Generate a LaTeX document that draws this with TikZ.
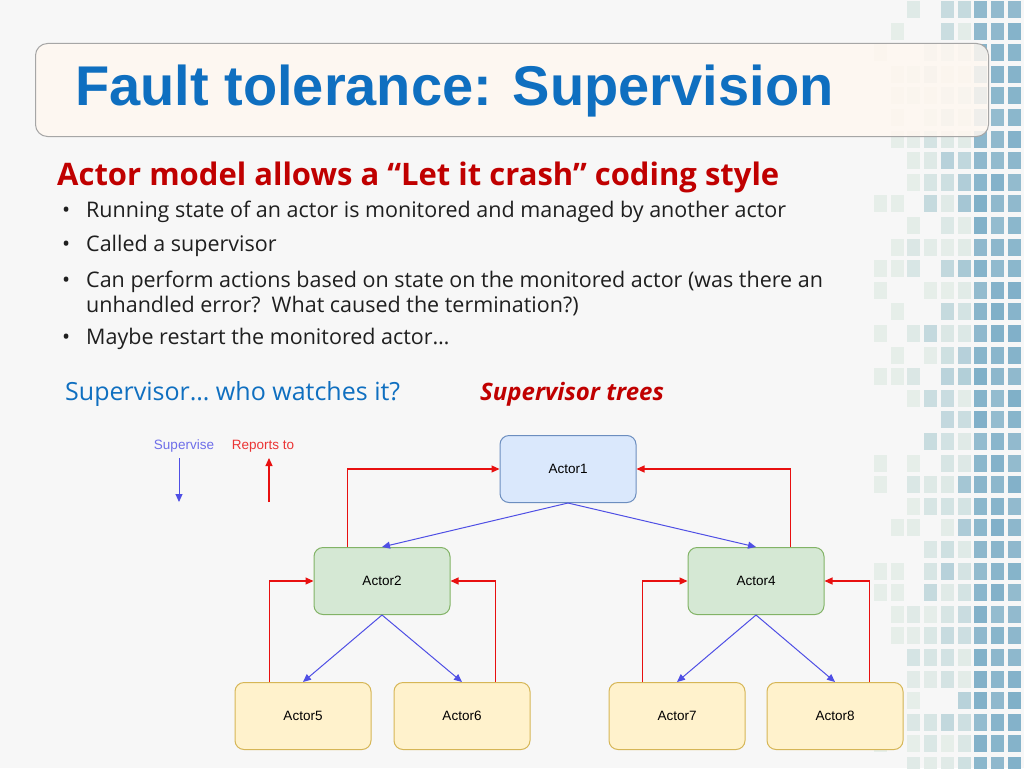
\documentclass[tikz,border=0pt]{standalone}
\usepackage{fontspec}
\setmainfont{Open Sans}
\newfontfamily\arialf{Liberation Sans}
\usetikzlibrary{arrows.meta}
\definecolor{bgc}{HTML}{F7F7F7}
\definecolor{sqblue}{HTML}{7FAFC8}
\definecolor{sqpale}{HTML}{E6EEE9}
\definecolor{titleblue}{HTML}{0F6FC0}
\definecolor{headred}{HTML}{C00000}
\definecolor{supblue}{HTML}{3030E0}
\definecolor{repred}{HTML}{E81010}
\definecolor{f1}{HTML}{DAE8FC}\definecolor{d1}{HTML}{6C8EBF}
\definecolor{f2}{HTML}{D5E8D4}\definecolor{d2}{HTML}{82B366}
\definecolor{f3}{HTML}{FFF2CC}\definecolor{d3}{HTML}{D6B656}
\begin{document}
\begin{tikzpicture}[x=1pt,y=-1pt,
  actor/.style={draw, rounded corners=9pt, minimum width=136pt, minimum height=67pt, inner sep=0pt, font=\arialf\fontsize{13.5}{16}\selectfont, line width=1pt},
  a1/.style={actor, fill=f1, draw=d1},
  a2/.style={actor, fill=f2, draw=d2},
  a3/.style={actor, fill=f3, draw=d3},
  sup/.style={-{Triangle[length=8pt,width=7pt]}, supblue!85, line width=1pt},
  rep/.style={-{Triangle[length=8pt,width=7pt]}, repred, line width=1.1pt},
  bul/.style={anchor=west, inner sep=0pt, font=\fontsize{21.5}{34}\selectfont, text=black!88}
]
\useasboundingbox (0,0) rectangle (1024,768);
\fill[bgc] (0,0) rectangle (1024,768);
% decorative squares
\pgfmathsetseed{11}
\foreach \c in {0,...,8}{
  \foreach \r in {0,...,35}{
    \pgfmathsetmacro\v{rnd}
    \pgfmathtruncatemacro\show{(\v < 0.3+0.14*\c) ? 1 : 0}
    \pgfmathtruncatemacro\pct{min(100,max(0,(\c>=6 ? 80+20*rnd : 100*(\c-1)/6*(rnd)^1.5)))}
    \ifnum\show=1
      \fill[sqblue!\pct!sqpale] ({874+16.7*\c},{1+21.6*\r}) rectangle ++(13,17);
    \fi
  }
}
% title box
\node[draw=gray!70, line width=1pt, fill=orange!6, fill opacity=0.85, rounded corners=12pt,
  minimum width=953pt, minimum height=93pt, anchor=north west] (tbox) at (35,43) {};
\node[anchor=west, inner sep=0pt, text=titleblue, font=\arialf\bfseries\fontsize{56}{60}\selectfont] (title) at (75,91) {Fault tolerance: Supervision};
% heading and bullets
\node[anchor=west, text=headred, font=\bfseries\fontsize{31}{34}\selectfont, inner sep=0pt] (head) at (57,177) {Actor model allows a “Let it crash” coding style};
\node[bul] (b1) at (62,212) {\makebox[24pt][l]{\textbullet}Running state of an actor is monitored and managed by another actor};
\node[bul] (b2) at (62,246) {\makebox[24pt][l]{\textbullet}Called a supervisor};
\node[bul, align=left, font=\fontsize{21.5}{25}\selectfont] (b3) at (62,293) {\makebox[24pt][l]{\textbullet}Can perform actions based on state on the monitored actor (was there an\\\hspace*{24pt}unhandled error?\ \ What caused the termination?)};
\node[bul] (b4) at (62,339) {\makebox[24pt][l]{\textbullet}Maybe restart the monitored actor…};
\node[anchor=west, text=titleblue, font=\fontsize{25}{28}\selectfont, inner sep=0pt] (q) at (65,394) {Supervisor… who watches it?};
\node[anchor=west, text=headred, font=\bfseries\itshape\fontsize{24}{28}\selectfont, inner sep=0pt] (trees) at (480,394) {Supervisor trees};
% legend
\node[text=supblue!70, font=\arialf\fontsize{13.5}{15}\selectfont] (lsup) at (184,446) {Supervise};
\node[text=repred!85, font=\arialf\fontsize{13.5}{15}\selectfont] (lrep) at (263,446) {Reports to};
\coordinate (ls1) at (179,458); \coordinate (ls2) at (179,502);
\coordinate (lr1) at (269,502); \coordinate (lr2) at (269,458);
\draw[sup] (ls1) -- (ls2);
\draw[rep] (lr1) -- (lr2);
% actors
\node[a1] (A1) at (568,469) {Actor1};
\node[a2] (A2) at (382,581) {Actor2};
\node[a2] (A4) at (756,581) {Actor4};
\node[a3] (A5) at (303,716) {Actor5};
\node[a3] (A6) at (462,716) {Actor6};
\node[a3] (A7) at (677,716) {Actor7};
\node[a3] (A8) at (835,716) {Actor8};
% supervise
\draw[sup] (A1.south) -- (A2.north);
\draw[sup] (A1.south) -- (A4.north);
\draw[sup] (A2.south) -- (A5.north);
\draw[sup] (A2.south) -- (A6.north);
\draw[sup] (A4.south) -- (A7.north);
\draw[sup] (A4.south) -- (A8.north);
% reports
\draw[rep] (A2.north west) ++(34,0) |- (A1.west);
\draw[rep] (A4.north east) ++(-34,0) |- (A1.east);
\draw[rep] (A5.north west) ++(35,0) |- (A2.west);
\draw[rep] (A6.north east) ++(-35,0) |- (A2.east);
\draw[rep] (A7.north west) ++(34,0) |- (A4.west);
\draw[rep] (A8.north east) ++(-34,0) |- (A4.east);
\end{tikzpicture}
\end{document}
